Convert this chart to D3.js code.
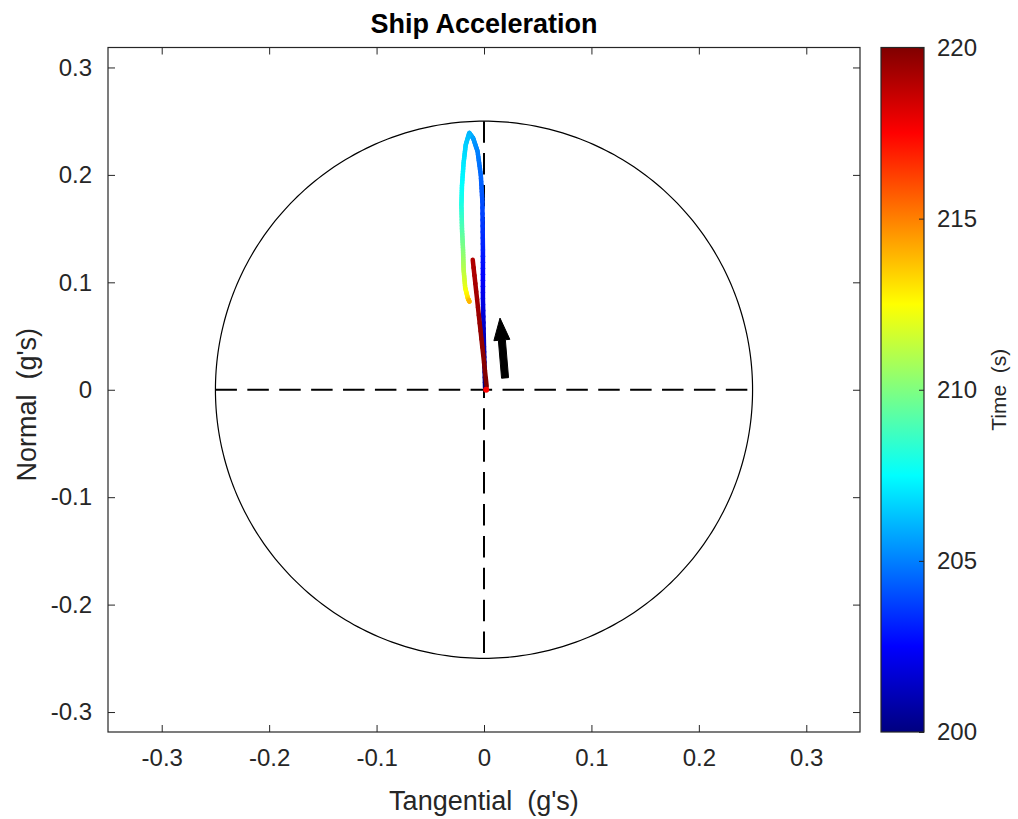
<!DOCTYPE html>
<html>
<head>
<meta charset="utf-8">
<script src="https://cdn.jsdelivr.net/npm/d3@7"></script>
<style>
  html, body { margin: 0; padding: 0; background: #ffffff; }
  svg { display: block; font-family: "Liberation Sans", Arial, Helvetica, sans-serif; }
</style>
</head>
<body>
<svg id="chart" width="1018" height="819"></svg>
<script>
// ---------------- data ----------------
const chartTitle = "Ship Acceleration";
const xLabel = "Tangential  (g's)";
const yLabel = "Normal  (g's)";
const cbLabel = "Time  (s)";

const xTicks = [-0.3, -0.2, -0.1, 0, 0.1, 0.2, 0.3];
const yTicks = [-0.3, -0.2, -0.1, 0, 0.1, 0.2, 0.3];
const cbTicks = [200, 205, 210, 215, 220];

const xLimits = [-0.35, 0.35];
const timeLimits = [200, 220];

const circleRadius = 0.25;

// trajectory (null = break in the trace)
const trajTime = [200, 201, 202, 203, 204, 204.5, 205, 205.5, 206, 206.5, 207, 207.5, 208, 209, 210, 211, 212, 213, 214, null, 219, 219.5, 220];
const trajX    = [0.001, 0.0, -0.001, -0.001, -0.0015, -0.003, -0.006, -0.010, -0.0137, -0.017, -0.019, -0.0205, -0.021, -0.0205, -0.0195, -0.019, -0.0175, -0.015, -0.0135, null, -0.0105, -0.004, 0.0025];
const trajY    = [0.002, 0.04, 0.085, 0.13, 0.175, 0.2, 0.222, 0.234, 0.239, 0.228, 0.211, 0.19, 0.172, 0.15, 0.13, 0.112, 0.095, 0.085, 0.082, null, 0.121, 0.062, 0.003];

const endMarkerX = [0.002];
const endMarkerY = [0.0];
const endMarkerT = [217.5];

// heading arrow
const arrowX = [0.0196, 0.0149];
const arrowY = [0.011, 0.0667];

// ---------------- layout ----------------
const svg = d3.select("#chart");
const plotL = 108, plotR = 860, plotT = 47.5, plotB = 732;
const pxPerUnit = (plotR - plotL) / (xLimits[1] - xLimits[0]);
const yHalf = (plotB - plotT) / 2 / pxPerUnit;

const x = d3.scaleLinear().domain(xLimits).range([plotL, plotR]);
const y = d3.scaleLinear().domain([-yHalf, yHalf]).range([plotB, plotT]);

const axisColor = "#262626";
const fmt = d => String(d);

function jet(v) {
  const c = t => Math.max(0, Math.min(1, t));
  const r = c(1.5 - Math.abs(4 * v - 3));
  const g = c(1.5 - Math.abs(4 * v - 2));
  const b = c(1.5 - Math.abs(4 * v - 1));
  return d3.rgb(r * 255, g * 255, b * 255).toString();
}
const tScale = d3.scaleLinear().domain(timeLimits).range([0, 1]).clamp(true);
const tColor = t => jet(tScale(t));

// clip
const defs = svg.append("defs");
defs.append("clipPath").attr("id", "plotclip")
  .append("rect").attr("x", plotL).attr("y", plotT)
  .attr("width", plotR - plotL).attr("height", plotB - plotT);

const plot = svg.append("g").attr("clip-path", "url(#plotclip)");

// circle
const circ = d3.range(0, 361, 1).map(a => [circleRadius * Math.cos(a * Math.PI / 180), circleRadius * Math.sin(a * Math.PI / 180)]);
plot.append("path")
  .attr("d", d3.line().x(d => x(d[0])).y(d => y(d[1]))(circ))
  .attr("fill", "none").attr("stroke", "#000").attr("stroke-width", 1.2);

// dashed axes
const dashPat = "21.5,10.4";
plot.append("line")
  .attr("x1", x(-circleRadius)).attr("x2", x(circleRadius))
  .attr("y1", y(0)).attr("y2", y(0))
  .attr("stroke", "#000").attr("stroke-width", 2).attr("stroke-dasharray", dashPat);
plot.append("line")
  .attr("x1", x(0)).attr("x2", x(0))
  .attr("y1", y(circleRadius)).attr("y2", y(-circleRadius))
  .attr("stroke", "#000").attr("stroke-width", 2).attr("stroke-dasharray", dashPat);

// trajectory: colored segments (subdivided for smooth colour blending)
const trajG = plot.append("g");
for (let i = 0; i < trajTime.length - 1; i++) {
  if (trajTime[i] === null || trajTime[i + 1] === null) continue;
  const n = 8;
  for (let k = 0; k < n; k++) {
    const f0 = k / n, f1 = (k + 1) / n, fm = (k + 0.5) / n;
    const xa = trajX[i] + (trajX[i + 1] - trajX[i]) * f0;
    const ya = trajY[i] + (trajY[i + 1] - trajY[i]) * f0;
    const xb = trajX[i] + (trajX[i + 1] - trajX[i]) * f1;
    const yb = trajY[i] + (trajY[i + 1] - trajY[i]) * f1;
    const tm = trajTime[i] + (trajTime[i + 1] - trajTime[i]) * fm;
    trajG.append("line")
      .attr("x1", x(xa)).attr("y1", y(ya)).attr("x2", x(xb)).attr("y2", y(yb))
      .attr("stroke", tColor(tm)).attr("stroke-width", 4.5).attr("stroke-linecap", "round");
  }
}
plot.selectAll(".endmk").data(endMarkerX).enter().append("circle")
  .attr("cx", (d, i) => x(d)).attr("cy", (d, i) => y(endMarkerY[i]))
  .attr("r", 3).attr("fill", (d, i) => tColor(endMarkerT[i]));

// arrow
{
  const x0 = x(arrowX[0]), y0 = y(arrowY[0]), x1 = x(arrowX[1]), y1 = y(arrowY[1]);
  const dx = x1 - x0, dy = y1 - y0, L = Math.hypot(dx, dy);
  const ux = dx / L, uy = dy / L, nx = -uy, ny = ux;
  const headLen = 22, headW = 8, shaftW = 3.5;
  const bx = x1 - ux * headLen, by = y1 - uy * headLen;
  const pts = [
    [x0 + nx * shaftW, y0 + ny * shaftW],
    [bx + nx * shaftW, by + ny * shaftW],
    [bx + nx * headW, by + ny * headW],
    [x1, y1],
    [bx - nx * headW, by - ny * headW],
    [bx - nx * shaftW, by - ny * shaftW],
    [x0 - nx * shaftW, y0 - ny * shaftW]
  ];
  plot.append("polygon").attr("points", pts.map(p => p.join(",")).join(" "))
    .attr("fill", "#000").attr("stroke", "#000").attr("stroke-width", 1).attr("stroke-linejoin", "round");
}

// axes (box with inward ticks)
const tickLen = 7;
const fontTick = 24;
const axB = svg.append("g").attr("transform", `translate(0,${plotB})`)
  .call(d3.axisBottom(x).tickValues(xTicks).tickSizeInner(-tickLen).tickSizeOuter(0).tickPadding(17).tickFormat(fmt));
const axT = svg.append("g").attr("transform", `translate(0,${plotT})`)
  .call(d3.axisTop(x).tickValues(xTicks).tickSizeInner(-tickLen).tickSizeOuter(0).tickFormat(""));
const axL = svg.append("g").attr("transform", `translate(${plotL},0)`)
  .call(d3.axisLeft(y).tickValues(yTicks).tickSizeInner(-tickLen).tickSizeOuter(0).tickPadding(16).tickFormat(fmt));
const axR = svg.append("g").attr("transform", `translate(${plotR},0)`)
  .call(d3.axisRight(y).tickValues(yTicks).tickSizeInner(-tickLen).tickSizeOuter(0).tickFormat(""));
[axB, axT, axL, axR].forEach(a => {
  a.select(".domain").remove();
  a.selectAll(".tick line").attr("stroke", axisColor).attr("stroke-width", 1);
  a.selectAll(".tick text").attr("fill", axisColor).attr("font-size", fontTick)
    .attr("font-family", "Liberation Sans, Arial, sans-serif");
});
svg.append("rect").attr("x", plotL).attr("y", plotT)
  .attr("width", plotR - plotL).attr("height", plotB - plotT)
  .attr("fill", "none").attr("stroke", axisColor).attr("stroke-width", 1.2);

// axis labels
svg.append("text").attr("x", (plotL + plotR) / 2).attr("y", 810)
  .attr("text-anchor", "middle").attr("font-size", 27).attr("fill", axisColor)
  .style("white-space", "pre").text(xLabel);
svg.append("text").attr("transform", `translate(36,${(plotT + plotB) / 2 + 15}) rotate(-90)`)
  .attr("text-anchor", "middle").attr("font-size", 27).attr("fill", axisColor)
  .style("white-space", "pre").text(yLabel);
svg.append("text").attr("x", (plotL + plotR) / 2).attr("y", 33)
  .attr("text-anchor", "middle").attr("font-size", 27).attr("font-weight", "bold").attr("fill", "#000")
  .text(chartTitle);

// colorbar
const cbL = 881, cbR = 924;
const cbY = d3.scaleLinear().domain(timeLimits).range([plotB, plotT]);
const grad = defs.append("linearGradient").attr("id", "jetgrad")
  .attr("x1", 0).attr("y1", 1).attr("x2", 0).attr("y2", 0);
d3.range(0, 1.0001, 0.0625).forEach(v => {
  grad.append("stop").attr("offset", v).attr("stop-color", jet(v));
});
svg.append("rect").attr("x", cbL).attr("y", plotT).attr("width", cbR - cbL).attr("height", plotB - plotT)
  .attr("fill", "url(#jetgrad)");
const cbAx = svg.append("g").attr("transform", `translate(${cbR},0)`)
  .call(d3.axisRight(cbY).tickValues(cbTicks).tickSizeInner(-5).tickSizeOuter(0).tickPadding(13).tickFormat(fmt));
cbAx.select(".domain").remove();
cbAx.selectAll(".tick line").attr("stroke", axisColor);
cbAx.selectAll(".tick text").attr("fill", axisColor).attr("font-size", fontTick);
svg.append("rect").attr("x", cbL).attr("y", plotT).attr("width", cbR - cbL).attr("height", plotB - plotT)
  .attr("fill", "none").attr("stroke", axisColor).attr("stroke-width", 1.2);
svg.append("text").attr("transform", `translate(1006,${(plotT + plotB) / 2}) rotate(-90)`)
  .attr("text-anchor", "middle").attr("font-size", 21).attr("fill", axisColor)
  .style("white-space", "pre").text(cbLabel);
</script>
</body>
</html>
